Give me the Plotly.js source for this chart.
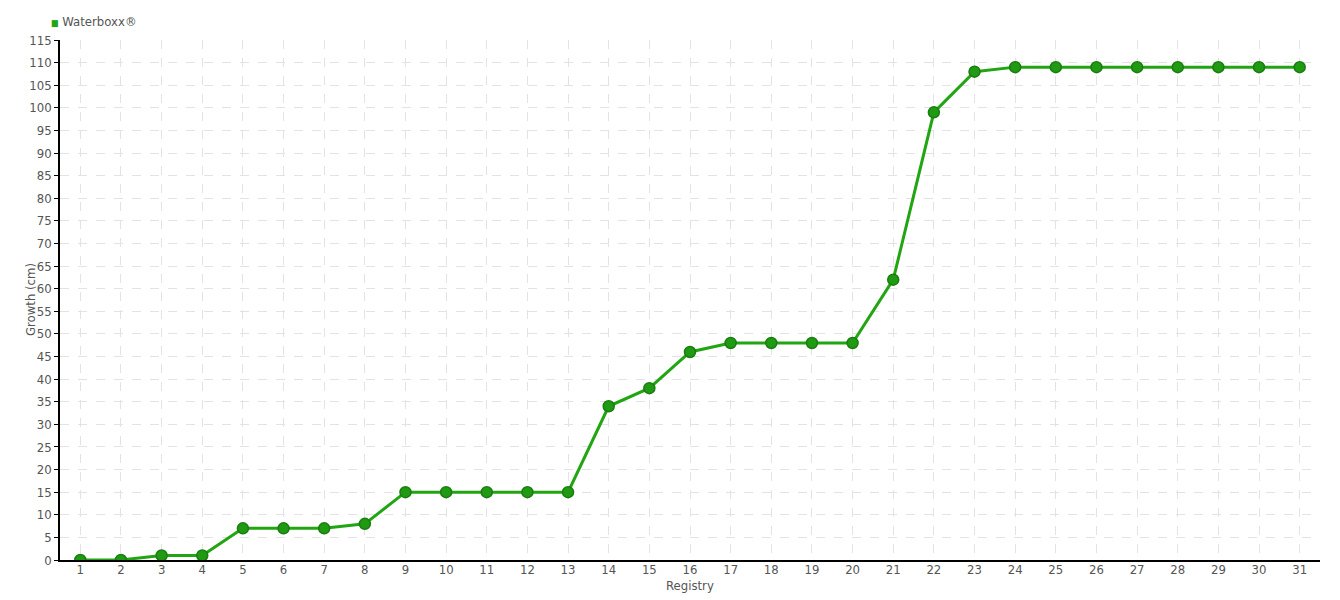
<!DOCTYPE html>
<html><head><meta charset="utf-8">
<script src="https://cdn.plot.ly/plotly-3.0.1.min.js"></script>
<style>html,body{margin:0;padding:0;background:#fff}#chart{width:1340px;height:600px}</style>
</head><body><div id="chart"></div>
<script>
const registry = [1,2,3,4,5,6,7,8,9,10,11,12,13,14,15,16,17,18,19,20,21,22,23,24,25,26,27,28,29,30,31];
const growth = [0,0,1,1,7,7,7,8,15,15,15,15,15,34,38,46,48,48,48,48,62,99,108,109,109,109,109,109,109,109,109];
const seriesName = 'Waterboxx®';
const xTitle = 'Registry';
const yTitle = 'Growth (cm)';
const yTicks = [0,5,10,15,20,25,30,35,40,45,50,55,60,65,70,75,80,85,90,95,100,105,110,115];

const fontFam = '"DejaVu Sans Condensed", "Liberation Sans Narrow", sans-serif';
const green = '#22a512';
const trace = {
  x: registry, y: growth, type: 'scatter', mode: 'lines+markers', name: seriesName,
  line: {color: green, width: 3},
  marker: {color: '#1f9a12', size: 11, line: {color: '#1a7d10', width: 1.5}},
  showlegend: false
};
const layout = {
  width: 1340, height: 600,
  margin: {l: 60, r: 20, t: 40, b: 40, autoexpand: false},
  paper_bgcolor: '#fff', plot_bgcolor: '#fff',
  font: {family: fontFam, color: '#555', size: 13},
  showlegend: false,
  annotations: [
    {xref: 'paper', yref: 'paper', x: -0.009, y: 1, yshift: 19, xanchor: 'left', yanchor: 'middle', showarrow: false,
     text: '<span style="color:' + green + ';font-size:9px">■</span> ' + seriesName, font: {size: 13, color: '#555'}},
    {xref: 'paper', yref: 'paper', x: 0.5, y: 0, yshift: -25, xanchor: 'center', yanchor: 'middle', showarrow: false,
     text: xTitle, font: {size: 13, color: '#555'}},
    {xref: 'paper', yref: 'paper', x: 0, xshift: -30, y: 0.5, xanchor: 'center', yanchor: 'middle', showarrow: false,
     textangle: -90, text: yTitle, font: {size: 13, color: '#555'}}
  ],
  xaxis: {
    range: [0.5, 31.5], tickvals: registry, ticktext: registry.map(String),
    showline: true, linecolor: '#000', linewidth: 1.5,
    showgrid: true, gridcolor: '#e3e3e3', griddash: 'dash', gridwidth: 1,
    ticks: '', zeroline: false, automargin: false, ticklabelstandoff: -3,
    tickfont: {size: 13, color: '#555'}
  },
  yaxis: {
    range: [0, 115], tickvals: yTicks,
    showline: true, linecolor: '#000', linewidth: 1.5,
    showgrid: true, gridcolor: '#e3e3e3', griddash: 'dash', gridwidth: 1,
    ticks: 'outside', ticklen: 4, tickcolor: '#000', zeroline: false, automargin: false,
    tickfont: {size: 13, color: '#555'}
  }
};
Plotly.newPlot('chart', [trace], layout, {displayModeBar: false});
</script></body></html>
